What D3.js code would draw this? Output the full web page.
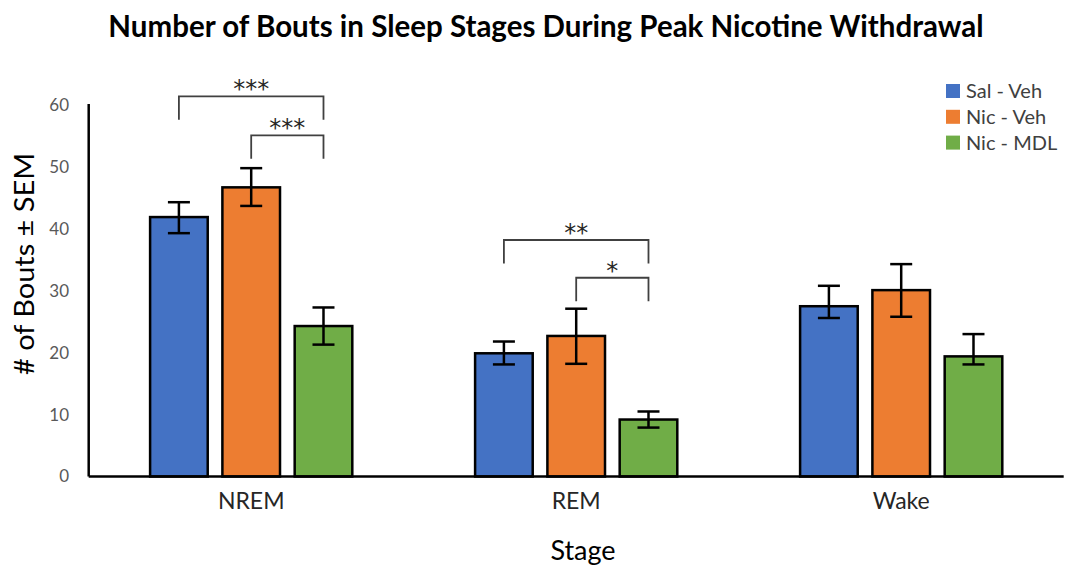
<!DOCTYPE html>
<html>
  <head>
    <style>
      html,
      body {
        margin: 0;
        padding: 0;
        background: #fff;
      }
      svg text {
        font-family: Lato, "Open Sans", sans-serif;
      }
    </style>
  </head>
  <body>
    <div id="chart"></div>
    <script src="https://d3js.org/d3.v7.min.js"></script>
    <script>
      const stages = ["NREM", "REM", "Wake"];
      const groups = ["Sal - Veh", "Nic - Veh", "Nic - MDL"];
      const colors = ["#4472C4", "#ED7D31", "#70AD47"];

      // mean bouts per stage
      const salVeh = [41.9, 19.9, 27.5];
      const nicVeh = [46.7, 22.7, 30.1];
      const nicMdl = [24.3, 9.2, 19.4];

      // error bar ends as drawn (upper / lower)
      const salVehHi = [44.3, 21.8, 30.8];
      const salVehLo = [39.3, 18.1, 25.6];
      const nicVehHi = [49.8, 27.1, 34.3];
      const nicVehLo = [43.7, 18.2, 25.8];
      const nicMdlHi = [27.3, 10.5, 23.0];
      const nicMdlLo = [21.3, 7.9, 18.1];

      const yTicks = [0, 10, 20, 30, 40, 50, 60];

      // significance brackets: stage, left group, right group, height, stars
      const sigBrackets = [
        { stage: "NREM", from: 0, to: 2, level: 61.4, label: "***" },
        { stage: "NREM", from: 1, to: 2, level: 55.1, label: "***" },
        { stage: "REM", from: 0, to: 2, level: 38.2, label: "**" },
        { stage: "REM", from: 1, to: 2, level: 32.1, label: "*" },
      ];

      const means = [salVeh, nicVeh, nicMdl];
      const his = [salVehHi, nicVehHi, nicMdlHi];
      const los = [salVehLo, nicVehLo, nicMdlLo];

      const rows = [];
      stages.forEach((s, i) => {
        groups.forEach((g, j) => {
          rows.push({ stage: s, group: g, gi: j, value: means[j][i], hi: his[j][i], lo: los[j][i] });
        });
      });

      const width = 1067;
      const height = 568;
      const plotLeft = 88.7;
      const plotRight = 1063.7;
      const plotTop = 105;
      const plotBottom = 476.5;

      const svg = d3
        .select("#chart")
        .append("svg")
        .attr("width", width)
        .attr("height", height);

      const x0 = d3.scaleBand().domain(stages).range([plotLeft, plotRight]);
      const x1 = d3
        .scaleBand()
        .domain(d3.range(groups.length))
        .range([61.4, 263.6])
        .paddingInner(0.203);
      const y = d3.scaleLinear().domain([0, 60]).range([plotBottom, plotTop]);
      const color = d3.scaleOrdinal().domain(d3.range(groups.length)).range(colors);

      // title
      svg
        .append("text")
        .attr("x", 546)
        .attr("y", 37)
        .attr("text-anchor", "middle")
        .attr("font-size", 29.5)
        .attr("font-weight", "bold")
        .attr("fill", "#000")
        .text("Number of Bouts in Sleep Stages During Peak Nicotine Withdrawal");

      // y tick labels (no tick marks)
      svg
        .append("g")
        .selectAll("text")
        .data(yTicks)
        .join("text")
        .attr("x", 69)
        .attr("y", (d) => y(d))
        .attr("dy", "0.35em")
        .attr("text-anchor", "end")
        .attr("font-size", 17)
        .attr("fill", "#595959")
        .text((d) => d);

      // bars
      const gBars = svg.append("g");
      gBars
        .selectAll("rect")
        .data(rows)
        .join("rect")
        .attr("x", (d) => x0(d.stage) + x1(d.gi))
        .attr("y", (d) => y(d.value))
        .attr("width", x1.bandwidth())
        .attr("height", (d) => y(0) - y(d.value))
        .attr("fill", (d) => color(d.gi))
        .attr("stroke", "#000")
        .attr("stroke-width", 2.5);

      // error bars
      const cap = 11;
      const gErr = svg.append("g").attr("stroke", "#000").attr("stroke-width", 2.5);
      rows.forEach((d) => {
        const cx = x0(d.stage) + x1(d.gi) + x1.bandwidth() / 2;
        gErr.append("line").attr("x1", cx).attr("x2", cx).attr("y1", y(d.hi)).attr("y2", y(d.lo));
        gErr.append("line").attr("x1", cx - cap).attr("x2", cx + cap).attr("y1", y(d.hi)).attr("y2", y(d.hi));
        gErr.append("line").attr("x1", cx - cap).attr("x2", cx + cap).attr("y1", y(d.lo)).attr("y2", y(d.lo));
      });

      // axes
      svg
        .append("line")
        .attr("x1", plotLeft)
        .attr("x2", plotLeft)
        .attr("y1", plotTop - 1)
        .attr("y2", plotBottom)
        .attr("stroke", "#000")
        .attr("stroke-width", 2.5);
      svg
        .append("line")
        .attr("x1", plotLeft)
        .attr("x2", plotRight)
        .attr("y1", plotBottom)
        .attr("y2", plotBottom)
        .attr("stroke", "#000")
        .attr("stroke-width", 2.5);

      // category labels
      svg
        .append("g")
        .selectAll("text")
        .data(stages)
        .join("text")
        .attr("x", (d) => x0(d) + x0.bandwidth() / 2)
        .attr("y", 509)
        .attr("text-anchor", "middle")
        .attr("font-size", 23)
        .attr("fill", "#262626")
        .text((d) => d);

      // axis titles
      svg
        .append("text")
        .attr("x", 583)
        .attr("y", 560)
        .attr("text-anchor", "middle")
        .attr("font-size", 27)
        .attr("fill", "#000")
        .text("Stage");

      svg
        .append("text")
        .attr("transform", "translate(34,264) rotate(-90)")
        .attr("text-anchor", "middle")
        .attr("font-size", 26)
        .attr("textLength", 222)
        .attr("lengthAdjust", "spacingAndGlyphs")
        .attr("fill", "#000")
        .text("# of Bouts ± SEM");

      // significance brackets
      const leg = 23.5;
      const gSig = svg.append("g");
      sigBrackets.forEach((b) => {
        const xa = x0(b.stage) + x1(b.from) + x1.bandwidth() / 2;
        const xb = x0(b.stage) + x1(b.to) + x1.bandwidth() / 2;
        const yy = y(b.level);
        gSig
          .append("path")
          .attr("d", `M${xa},${yy + leg}V${yy}H${xb}V${yy + leg}`)
          .attr("fill", "none")
          .attr("stroke", "#404040")
          .attr("stroke-width", 1.8);
        gSig
          .append("text")
          .attr("x", (xa + xb) / 2)
          .attr("y", yy + 1)
          .attr("text-anchor", "middle")
          .style("font-family", "'DejaVu Sans', sans-serif")
          .attr("font-size", 24)
          .attr("fill", "#262626")
          .text(b.label);
      });

      // legend
      const gLeg = svg.append("g");
      groups.forEach((g, i) => {
        const cy = 91 + i * 25.8;
        gLeg
          .append("rect")
          .attr("x", 946)
          .attr("y", cy - 7)
          .attr("width", 14)
          .attr("height", 14)
          .attr("fill", colors[i]);
        gLeg
          .append("text")
          .attr("x", 966)
          .attr("y", cy)
          .attr("dy", "0.35em")
          .attr("font-size", 20)
          .attr("fill", "#404040")
          .text(g);
      });
    </script>
  </body>
</html>
